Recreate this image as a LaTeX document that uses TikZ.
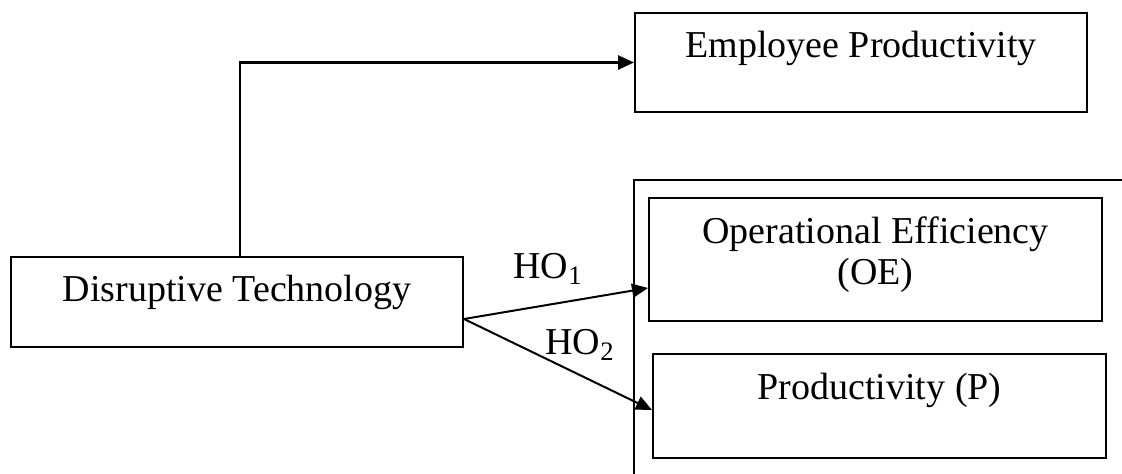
\documentclass[tikz,border=0pt]{standalone}
\usepackage{fontspec}
\setmainfont{Liberation Serif}
\usetikzlibrary{arrows.meta}
\begin{document}
\begin{tikzpicture}[x=0.5pt, y=-0.5pt, line width=1pt, >={Triangle[length=8pt,width=7pt]}]
\tikzstyle{box} = [draw, rectangle, inner sep=0pt, minimum width=226pt]
\tikzstyle{txt} = [inner sep=0pt, anchor=base, font=\fontsize{19}{20.5}\selectfont]
\useasboundingbox (0,0) rectangle (1122,474);
% boxes
\node[box, minimum height=45pt] (dt) at (237,302) {};
\node[box, minimum height=49.5pt] (emp) at (861,62.5) {};
\node[box, minimum width=226.5pt, minimum height=61.5pt] (oe) at (875.5,259.5) {};
\node[box, minimum width=226.5pt, minimum height=52pt] (p) at (879.5,406) {};
% texts
\node[txt] (dtname) at (237,302) {Disruptive Technology};
\node[txt] (empname) at (861,58) {Employee Productivity};
\node[txt] (oename) at (875.5,244) {Operational Efficiency};
\node[txt] (oeshort) at (875.5,285) {(OE)};
\node[txt] (pname) at (879.5,400) {Productivity (P)};
% frame round the outcomes
\draw (1122,180) -- (634,180) -- (634,474);
% connectors
\draw[->, line width=1.3pt] ([xshift=1.5pt]dt.north) |- (emp.west);
\draw[->] ([yshift=-8.5pt]dt.east) -- ([yshift=-14.25pt]oe.west);
\draw[->] ([yshift=-8.5pt]dt.east) -- ([yshift=-2pt]p.west);
\node[txt] (ho1) at (548,279) {HO\textsubscript{1}};
\node[txt] (ho2) at (580,355) {HO\textsubscript{2}};
\end{tikzpicture}
\end{document}
